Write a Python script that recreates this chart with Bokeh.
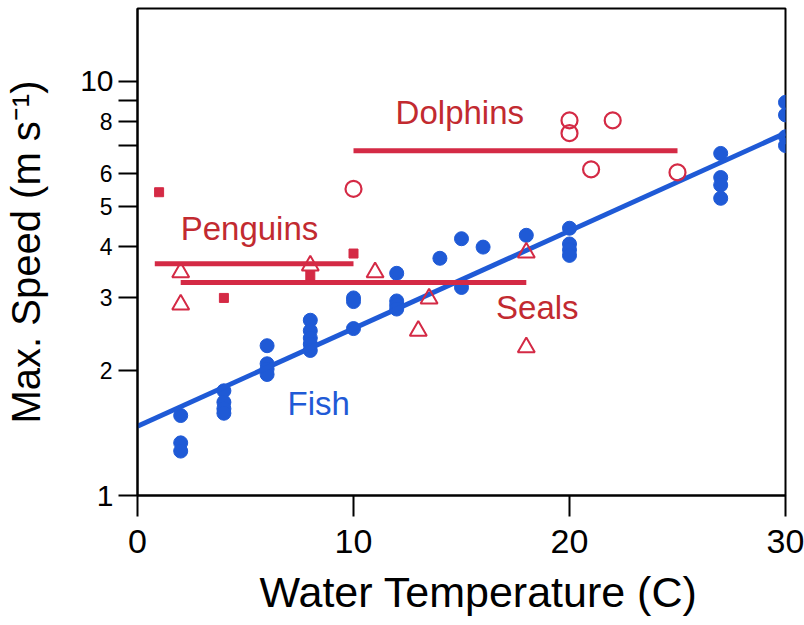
from bokeh.plotting import figure
from bokeh.models import Range1d, FixedTicker, Label, LogAxis, Title
from bokeh.embed import file_html
from bokeh.resources import INLINE

# Fish: maximum swimming speed versus water temperature
fish_temp = [2, 2, 2, 4, 4, 4, 4, 6, 6, 6, 6, 8, 8, 8, 8, 8, 10, 10, 10,
             12, 12, 12, 12, 14, 15, 15, 16, 18, 20, 20, 20, 20,
             27, 27, 27, 27, 30, 30, 30, 30]
fish_speed = [1.56, 1.34, 1.28, 1.79, 1.68, 1.62, 1.58, 2.30, 2.08, 2.02, 1.96,
              2.65, 2.50, 2.40, 2.32, 2.24, 3.00, 2.94, 2.53,
              3.44, 2.95, 2.88, 2.82, 3.74, 4.17, 3.18, 3.98, 4.25,
              4.42, 4.05, 3.92, 3.80, 6.70, 5.86, 5.62, 5.22,
              8.90, 8.30, 7.35, 7.00]
fish_fit_temp = [0, 30]
fish_fit_speed = [1.47, 7.5]

# Warm-blooded swimmers
dolphin_temp = [10, 20, 20, 21, 22, 25]
dolphin_speed = [5.5, 8.05, 7.5, 6.13, 8.05, 6.03]
dolphin_mean_temp = [10, 25]
dolphin_mean_speed = [6.8, 6.8]

penguin_temp = [1, 4, 8, 10]
penguin_speed = [5.4, 3.0, 3.4, 3.84]
penguin_mean_temp = [0.8, 10]
penguin_mean_speed = [3.63, 3.63]

seal_temp = [2, 2, 8, 11, 13, 13.5, 18, 18]
seal_speed = [3.46, 2.89, 3.59, 3.46, 2.50, 2.99, 3.86, 2.28]
seal_mean_temp = [2, 18]
seal_mean_speed = [3.27, 3.27]

y_ticks = [1, 2, 3, 4, 5, 6, 7, 8, 9, 10]
y_tick_text = {1: "", 2: "2", 3: "3", 4: "4", 5: "5", 6: "6", 7: "", 8: "8", 9: "", 10: ""}
y_decades = [1, 10]
y_decade_text = {1: "1", 10: "10"}
x_ticks = [0, 10, 20, 30]

BLUE = "#1f5ad6"
RED = "#d42a45"
RED_TEXT = "#c22a30"
FONT = "Liberation Sans"

p = figure(width=804, height=625, y_axis_type="log",
           x_range=Range1d(0, 30), y_range=Range1d(1, 15),
           output_backend="svg", toolbar_location=None,
           min_border_left=137, min_border_right=19,
           min_border_top=8, min_border_bottom=130)

p.grid.visible = False
p.outline_line_color = "black"
p.outline_line_width = 2
p.background_fill_color = "white"
p.border_fill_color = "white"

for ax in (p.xaxis[0], p.yaxis[0]):
    ax.axis_line_width = 2
    ax.major_tick_line_width = 2
    ax.minor_tick_line_color = None
    ax.major_tick_in = 0
    ax.major_label_text_font = FONT
    ax.axis_label_text_font = FONT
    ax.axis_label_text_font_style = "normal"
    ax.axis_label_text_color = "black"
    ax.major_label_text_color = "black"

p.xaxis.ticker = FixedTicker(ticks=x_ticks)
p.xaxis.major_tick_out = 21
p.xaxis.major_label_text_font_size = "34px"
p.xaxis.major_label_standoff = 13

# x title, set a little right of the frame centre
p.add_layout(Title(text="Water Temperature (C)", align="left", offset=122,
                   text_font=FONT, text_font_size="43px",
                   text_font_style="normal", text_color="black",
                   standoff=20), "below")

# inner y axis: all ticks, small labels between the decades
p.yaxis.ticker = FixedTicker(ticks=y_ticks)
p.yaxis.major_label_overrides = {k: v for k, v in y_tick_text.items()}
p.yaxis.major_tick_out = 19
p.yaxis.major_label_text_font_size = "23px"
p.yaxis.major_label_standoff = 6

# outer y axis: larger decade labels and the axis title
decade_axis = LogAxis(ticker=FixedTicker(ticks=y_decades),
                      major_label_overrides={k: v for k, v in y_decade_text.items()},
                      axis_line_color=None, major_tick_line_color=None,
                      minor_tick_line_color=None,
                      major_tick_out=0, major_tick_in=0,
                      major_label_standoff=-17,
                      major_label_text_font=FONT,
                      major_label_text_font_size="30px",
                      major_label_text_color="black",
                      axis_label="Max. Speed (m s⁻¹)",
                      axis_label_text_font=FONT,
                      axis_label_text_font_style="normal",
                      axis_label_text_font_size="40px",
                      axis_label_text_color="black",
                      axis_label_standoff=29)
p.add_layout(decade_axis, "left")

# fish
p.scatter(fish_temp, fish_speed, marker="circle", size=14,
          fill_color=BLUE, line_color=BLUE)
p.line(fish_fit_temp, fish_fit_speed, line_color=BLUE, line_width=5)

# group means
p.line(dolphin_mean_temp, dolphin_mean_speed, line_color=RED, line_width=5)
p.line(penguin_mean_temp, penguin_mean_speed, line_color=RED, line_width=5)
p.line(seal_mean_temp, seal_mean_speed, line_color=RED, line_width=5)

p.scatter(dolphin_temp, dolphin_speed, marker="circle", size=16,
          fill_color=None, line_color=RED, line_width=2.2)
p.scatter(penguin_temp, penguin_speed, marker="square", size=9,
          fill_color=RED, line_color=RED)
p.scatter(seal_temp, seal_speed, marker="triangle", size=17,
          fill_color=None, line_color=RED, line_width=2)

labels = [("Dolphins", 11.95, 8.4, RED_TEXT),
          ("Penguins", 2.0, 4.42, RED_TEXT),
          ("Seals", 16.6, 2.84, RED_TEXT),
          ("Fish", 6.95, 1.67, BLUE)]
for txt, x, y, c in labels:
    p.add_layout(Label(x=x, y=y, text=txt, text_align="left",
                       text_baseline="middle", text_font=FONT,
                       text_font_size="33px", text_color=c))

open("out.html", "w").write(file_html(p, INLINE))
